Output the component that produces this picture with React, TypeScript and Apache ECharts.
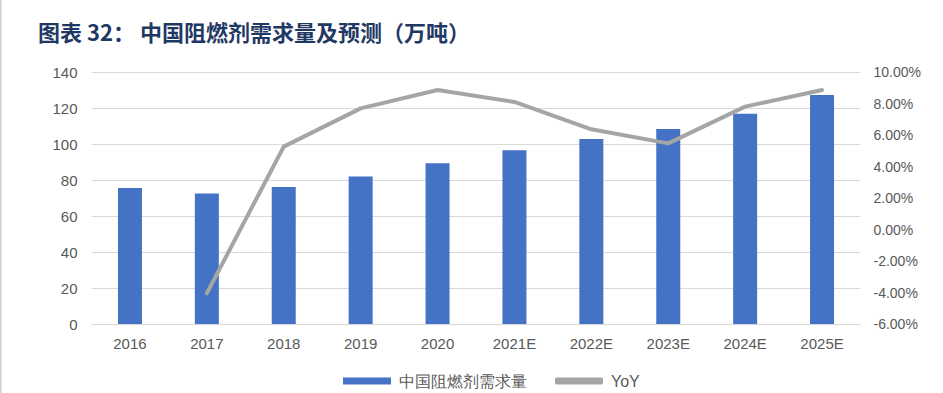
import React, { useEffect, useRef } from "react";
import * as echarts from "echarts";

const categories = ["2016", "2017", "2018", "2019", "2020", "2021E", "2022E", "2023E", "2024E", "2025E"];
const demand = [75.5, 72.5, 76.1, 82, 89.3, 96.5, 102.8, 108.3, 116.8, 127.2];
const yoy = [null, -4.05, 5.26, 7.69, 8.86, 8.1, 6.36, 5.47, 7.8, 8.86];
const barName = "中国阻燃剂需求量";
const lineName = "YoY";
const title = "图表 32： 中国阻燃剂需求量及预测（万吨）";

export default function App() {
  const ref = useRef<HTMLDivElement>(null);
  useEffect(() => {
    if (!ref.current) return;
    const chart = echarts.init(ref.current, null, { renderer: "svg" });
    const font = "'Liberation Sans', Arial, sans-serif";
    chart.setOption({
      animation: false,
      backgroundColor: "#ffffff",
      title: {
        text: title,
        left: 33,
        top: 15,
        textStyle: {
          fontFamily: "'Noto Sans CJK SC', sans-serif",
          fontWeight: "bold",
          fontSize: 22,
          color: "#1F3864",
        },
      },
      graphic: [
        { type: "rect", shape: { x: 0, y: 0, width: 1.5, height: 393 }, style: { fill: "#D0D0D0" } },
      ],
      legend: {
        left: 343,
        top: 373,
        padding: 0,
        itemGap: 28,
        itemWidth: 48,
        itemHeight: 7,
        textStyle: { color: "#595959", fontSize: 16, fontFamily: font, padding: [0, 0, 0, 3] },
        data: [
          { name: barName, icon: "rect" },
          { name: lineName, icon: "roundRect" },
        ],
      },
      grid: { left: 91.5, right: 82.5, top: 72, bottom: 69 },
      xAxis: {
        type: "category",
        data: categories,
        axisLine: { lineStyle: { color: "#D9D9D9", width: 1 } },
        axisTick: { show: false },
        axisLabel: { color: "#595959", fontSize: 15, fontFamily: font, margin: 12 },
      },
      yAxis: [
        {
          type: "value",
          min: 0,
          max: 140,
          interval: 20,
          axisLine: { show: false },
          axisTick: { show: false },
          splitLine: { lineStyle: { color: "#D9D9D9", width: 1 } },
          axisLabel: { color: "#595959", fontSize: 15, fontFamily: font, margin: 14 },
        },
        {
          type: "value",
          min: -6,
          max: 10,
          interval: 2,
          axisLine: { show: false },
          axisTick: { show: false },
          splitLine: { show: false },
          axisLabel: {
            color: "#595959",
            fontSize: 14,
            fontFamily: font,
            margin: 13,
            formatter: (v: number) => v.toFixed(2) + "%",
          },
        },
      ],
      series: [
        {
          name: barName,
          type: "bar",
          data: demand,
          barWidth: 24,
          itemStyle: { color: "#4472C4" },
        },
        {
          name: lineName,
          type: "line",
          yAxisIndex: 1,
          data: yoy,
          symbol: "none",
          lineStyle: { color: "#A5A5A5", width: 4, cap: "round", join: "round" },
          itemStyle: { color: "#A5A5A5" },
        },
      ],
    });
    return () => chart.dispose();
  }, []);
  return (
    <div
      ref={ref}
      style={{ position: "fixed", left: 0, top: 0, width: 943, height: 393 }}
    />
  );
}
